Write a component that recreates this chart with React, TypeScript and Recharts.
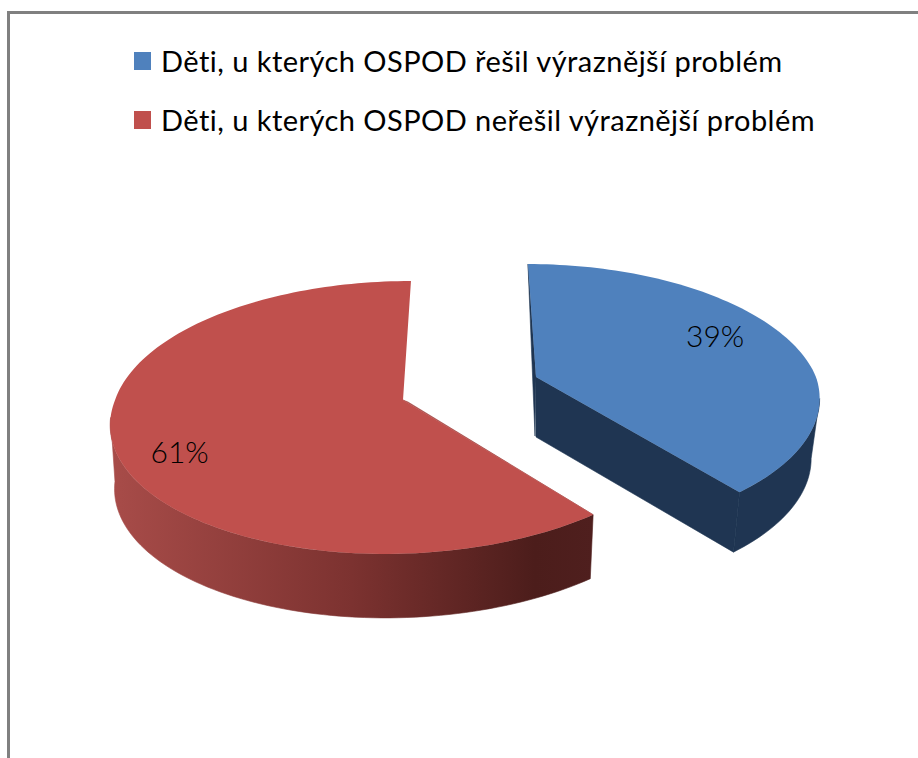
import React from "react";
import { PieChart, Pie, Legend } from "recharts";

const categories = [
  "Děti, u kterých OSPOD řešil výraznější problém",
  "Děti, u kterých OSPOD neřešil výraznější problém",
];
const shares = [39, 61];
const sliceColors = ["#4F81BD", "#C0504D"];

const tableData = categories.map((name, i) => ({ name, value: shares[i], fill: sliceColors[i] }));

// 3D view settings for each slice (explosion, perspective, extrusion)
const views = [
  { dx: 133, dy: -23, rScale: 280 / 290, H: 131, k: 0.16, aTop: -9.3, aBot: 0, depth: 60, sx: 0.97, rim: "#1F3552", wall: "#1F3552", wallTip: [-1, 59], endWall: true, labelNudge: [-11, -10] },
  { dx: 0, dy: 0, rScale: 0.993, H: 134.2, k: 0.128, aTop: 9, aBot: 15.8, depth: 64, sx: 0.985, rim: "url(#redRim)", wall: "#A64B48", wallTip: [5, 2], endWall: false, labelNudge: [-1, 14] },
];

const rad = Math.PI / 180;

function project(view: any, cx: number, cy: number, r: number, deg: number, f = 1) {
  const c = Math.cos(deg * rad);
  const s = Math.sin(deg * rad);
  const w = 1 + view.k * s;
  return {
    x: cx + view.dx + (f * (r * view.rScale * c + view.aTop * Math.max(s, 0) + view.aBot * Math.min(s, 0))) / w,
    y: cy + view.dy - (f * view.H * s) / w,
  };
}

function lower(view: any, cx: number, p: { x: number; y: number }) {
  const ax = cx + view.dx;
  return { x: ax + (p.x - ax) * view.sx, y: p.y + view.depth };
}

const toPath = (pts: { x: number; y: number }[]) =>
  "M" + pts.map((p) => `${p.x.toFixed(2)},${p.y.toFixed(2)}`).join("L") + "Z";

function sweep(from: number, to: number) {
  const n = Math.max(2, Math.ceil(Math.abs(to - from) / 1.5));
  return Array.from({ length: n + 1 }, (_, i) => from + ((to - from) * i) / n);
}

function Slice3D(props: any) {
  const { cx, cy, outerRadius, startAngle, endAngle, index, fill } = props;
  const view = views[index];
  const P = (d: number) => project(view, cx, cy, outerRadius, d);
  const apex = { x: cx + view.dx, y: cy + view.dy };
  const top = sweep(startAngle, endAngle).map(P);

  // outer rim: only the part between the two silhouette angles faces the viewer
  const sil = Math.asin(view.k) / rad;
  const rimFrom = Math.min(startAngle, -sil);
  const rimTo = Math.max(endAngle, -180 + sil);
  const rimTop = sweep(rimFrom, rimTo).map(P);
  const rimBottom = rimTop.map((p) => lower(view, cx, p)).reverse();

  const first = P(startAngle);
  const last = P(endAngle);
  const wallPts = [first, apex, { x: apex.x + view.wallTip[0], y: apex.y + view.wallTip[1] }];
  const lowApex = { x: apex.x, y: apex.y + view.depth };
  return (
    <g>
      <path d={toPath(wallPts)} fill={view.wall} stroke={view.wall} strokeWidth={0.6} />
      <path d={toPath([...rimTop, ...rimBottom])} fill={view.rim} stroke={view.rim} strokeWidth={0.6} />
      {view.endWall && <path d={toPath([apex, last, lower(view, cx, last), lowApex])} fill={view.wall} stroke={view.wall} strokeWidth={0.6} />}
      <path d={toPath([apex, ...top])} fill={fill} />
    </g>
  );
}

function renderLabel(props: any) {
  const { cx, cy, outerRadius, midAngle, percent, index } = props;
  const view = views[index];
  const p = project(view, cx, cy, outerRadius, midAngle, 0.77);
  return (
    <text
      x={p.x + view.labelNudge[0]}
      y={p.y + view.labelNudge[1]}
      textAnchor="middle"
      dominantBaseline="central"
      fontFamily="Lato, sans-serif"
      fontWeight={300}
      fontSize={30}
      fill="#000"
    >
      {`${Math.round(percent * 100)}%`}
    </text>
  );
}

function LegendRows(props: any) {
  const items = props.payload || [];
  return (
    <div style={{ fontFamily: "Lato, sans-serif", fontSize: 29, color: "#000", lineHeight: "59px" }}>
      {items.map((it: any) => (
        <div key={it.value} style={{ display: "flex", alignItems: "center", height: 59, whiteSpace: "nowrap", letterSpacing: 0.46 }}>
          <span style={{ width: 17, height: 18, background: it.payload?.fill ?? it.color, marginRight: 10, flex: "none" }} />
          <span>{it.value}</span>
        </div>
      ))}
    </div>
  );
}

export default function App() {
  return (
    <div style={{ position: "fixed", left: 0, top: 0, width: 918, height: 758, overflow: "hidden", background: "#fff" }}>
      <div style={{ position: "absolute", left: 7, top: 11, width: 920, height: 760, borderLeft: "3px solid #808080", borderTop: "3px solid #808080" }} />
      <div style={{ position: "absolute", left: 0, top: 0 }}>
        <PieChart width={918} height={758} margin={{ top: 0, right: 0, bottom: 0, left: 0 }}>
          <defs>
            <linearGradient id="redRim" x1="0" y1="0" x2="1" y2="0">
              <stop offset="0" stopColor="#A84C49" />
              <stop offset="0.5" stopColor="#7C3230" />
              <stop offset="0.88" stopColor="#4C1D1B" />
              <stop offset="1" stopColor="#4F1F1E" />
            </linearGradient>
          </defs>
          <Pie
            data={tableData}
            dataKey="value"
            nameKey="name"
            cx={403}
            cy={400}
            innerRadius={0}
            outerRadius={290}
            startAngle={90}
            endAngle={-270}
            stroke="none"
            isAnimationActive={false}
            shape={Slice3D}
            label={renderLabel}
            labelLine={false}
          />
          <Legend
            layout="vertical"
            align="center"
            verticalAlign="middle"
            itemSorter={null}
            content={<LegendRows />}
            wrapperStyle={{ left: 134, top: 31, width: 760, height: 118 }}
          />
        </PieChart>
      </div>
    </div>
  );
}
